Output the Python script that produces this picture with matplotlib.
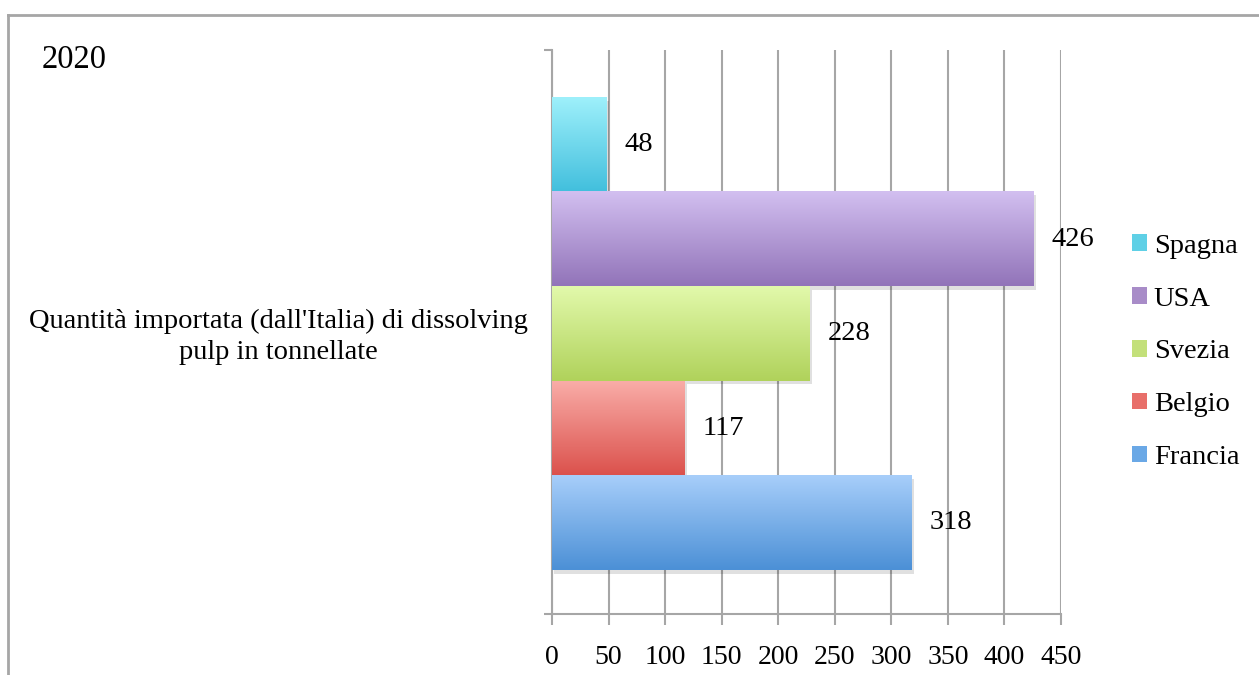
import numpy as np
import matplotlib
matplotlib.use("Agg")
import matplotlib.pyplot as plt
from matplotlib.colors import LinearSegmentedColormap
from matplotlib.lines import Line2D
from matplotlib.patches import Patch

plt.rcParams['font.family'] = ['Liberation Serif', 'DejaVu Serif']

# Data
category = "Quantità importata (dall'Italia) di dissolving\npulp in tonnellate"
countries = ["Spagna", "USA", "Svezia", "Belgio", "Francia"]
values = [48, 426, 228, 117, 318]
year_title = "2020"
xticks = [0, 50, 100, 150, 200, 250, 300, 350, 400, 450]

# gradient colours (top, bottom) per series
grad_top = ["#9ef0fb", "#d2bff0", "#e2f9ab", "#f9aca7", "#a7cefa"]
grad_bot = ["#42bfdd", "#9274b9", "#b0d25b", "#db514c", "#4c90d6"]
legend_col = ["#5fd0e6", "#a88cc8", "#c3e07a", "#e86f6a", "#6aa8e6"]

W, H = 1259, 675
fig = plt.figure(figsize=(W / 100, H / 100), dpi=100)

# outer chart frame (top and left edges visible)
fig.add_artist(Line2D([8 / W, 8 / W], [0, 1 - 15 / H], transform=fig.transFigure,
                      color="#a6a6a6", lw=2))
fig.add_artist(Line2D([8 / W, 1], [1 - 15 / H, 1 - 15 / H], transform=fig.transFigure,
                      color="#a6a6a6", lw=2))

ax = fig.add_axes([552 / W, 1 - 614 / H, (1061 - 552) / W, (614 - 50) / H])

n = len(countries)
bar_h = 0.1677
shift = -0.003
offsets = [(n - 1) / 2 * bar_h - i * bar_h + shift for i in range(n)]

for i in range(n):
    y0 = offsets[i] - bar_h / 2
    y1 = offsets[i] + bar_h / 2
    cmap = LinearSegmentedColormap.from_list("g", [grad_bot[i], grad_top[i]])
    grad = np.linspace(0, 1, 100).reshape(-1, 1)
    # soft shadow
    ax.add_patch(plt.Rectangle((2, y0 - 0.006), values[i], bar_h, color="#000000",
                               alpha=0.12, lw=0, zorder=2))
    ax.imshow(grad, extent=[0, values[i], y0, y1], origin="lower", cmap=cmap,
              aspect="auto", zorder=3, interpolation="bicubic")
    ax.text(values[i] + 16, offsets[i], str(values[i]), va="center", ha="left",
            fontsize=20.5, color="black", zorder=4)

ax.set_xlim(0, 450)
ax.set_ylim(-0.5, 0.5)
ax.set_xticks(xticks)
ax.set_xticklabels([str(t) for t in xticks], fontsize=20)
ax.set_yticks([-0.5, 0.5])
ax.set_yticklabels(["", ""])
ax.tick_params(axis="y", length=6, color="#a6a6a6", width=1.5)
ax.tick_params(axis="x", length=8, color="#a6a6a6", width=1.5, pad=14)
ax.grid(axis="x", color="#a6a6a6", lw=1.5, zorder=1)
ax.set_axisbelow(True)
for s in ["top", "right"]:
    ax.spines[s].set_visible(False)
for s in ["left", "bottom"]:
    ax.spines[s].set_color("#a6a6a6")
    ax.spines[s].set_linewidth(1.5)

# category label
fig.text(278 / W, 1 - 337 / H, category, ha="center", va="center", fontsize=20.5,
         linespacing=1.32)
# title
fig.text(42 / W, 1 - 60 / H, year_title, ha="left", va="center", fontsize=23.5)

handles = [Patch(facecolor=legend_col[i], edgecolor="none") for i in range(n)]
fig.legend(handles, countries, loc="center left", bbox_to_anchor=(1121 / W, 1 - 352 / H),
           frameon=False, fontsize=20.5, handlelength=0.5, handleheight=0.5,
           handletextpad=0.25, labelspacing=0.98, borderaxespad=0)

fig.savefig("out.png", dpi=100)
